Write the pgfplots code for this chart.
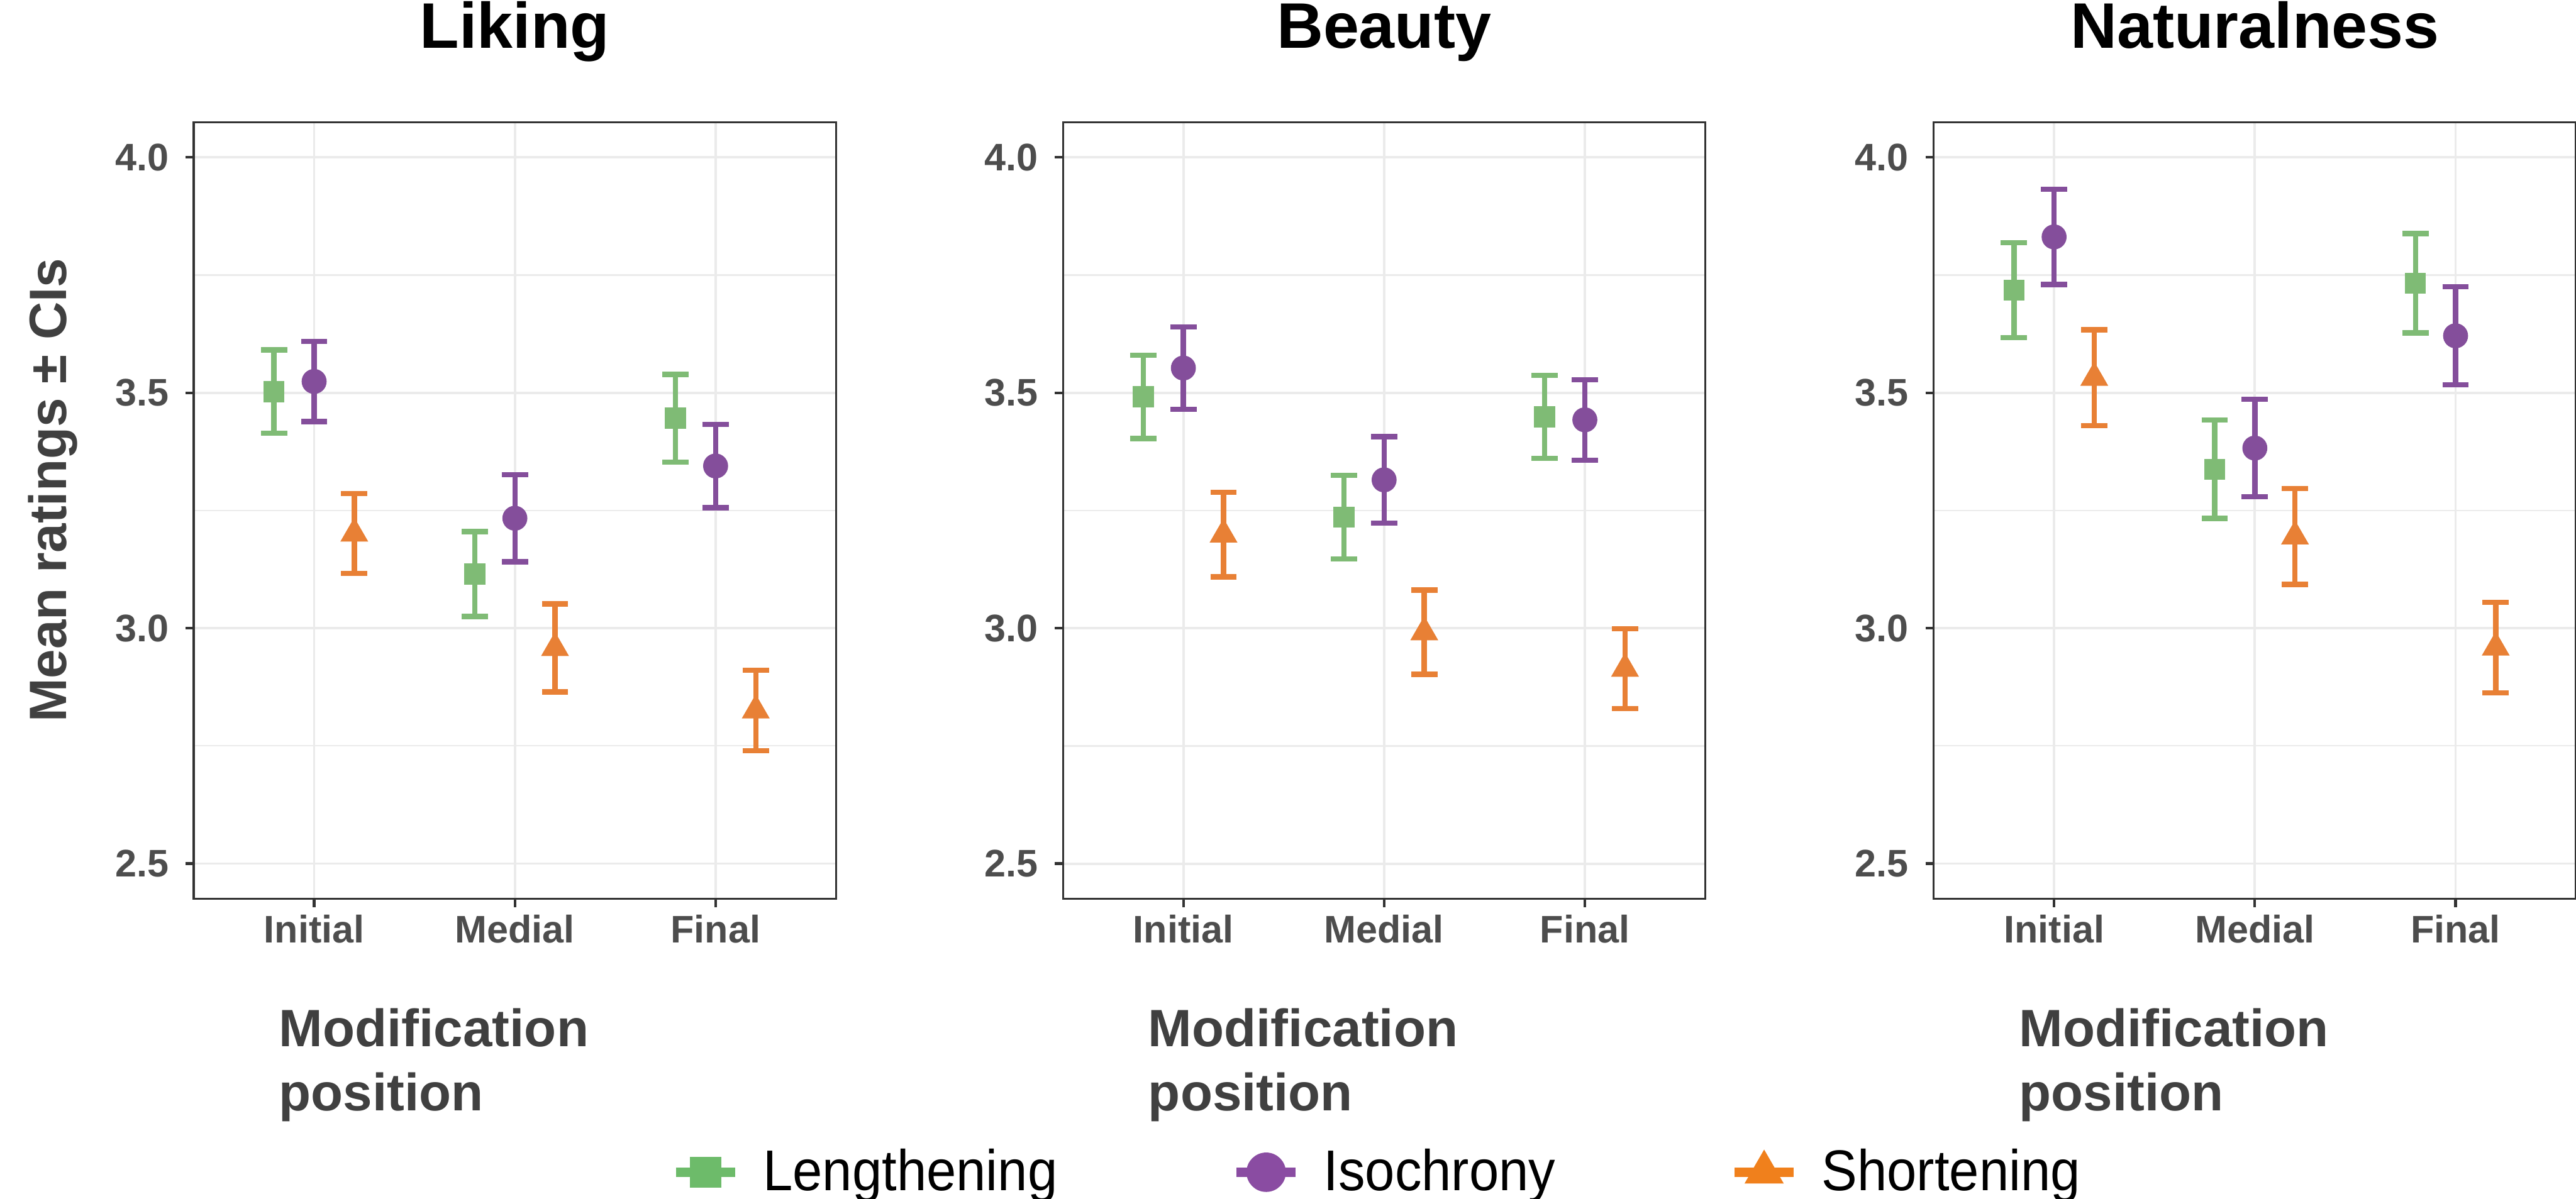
\documentclass[border=0pt]{standalone}
\usepackage{fontspec}
\setmainfont{Liberation Sans}
\newfontfamily\legfont[FakeStretch=0.93]{Liberation Sans}
\usepackage{pgfplots}
\pgfplotsset{compat=1.18}

\definecolor{cG}{HTML}{7FBB75}
\definecolor{cP}{HTML}{844E9B}
\definecolor{cO}{HTML}{E88035}
\definecolor{lG}{HTML}{6DBB6A}
\definecolor{lP}{HTML}{8A4CA2}
\definecolor{lO}{HTML}{F0801C}
\definecolor{gridc}{HTML}{EBEBEB}
\definecolor{axc}{HTML}{333333}
\definecolor{tickc}{HTML}{4D4D4D}
\definecolor{labc}{HTML}{404040}

\pgfplotsset{
 panel/.style={
  scale only axis, width=195.5pt, height=236.5pt,
  anchor=south west,
  xmin=0.4, xmax=3.6, ymin=2.425, ymax=4.075,
  xtick={1,2,3}, xticklabels={Initial,Medial,Final},
  ytick={2.5,3,3.5,4}, yticklabels={2.5,3.0,3.5,4.0},
  minor ytick={2.75,3.25,3.75},
  xmajorgrids, ymajorgrids, yminorgrids,
  major grid style={color=gridc, line width=0.75pt},
  minor grid style={color=gridc, line width=0.45pt},
  axis line style={color=axc, line width=0.6pt},
  tick align=outside, xtick pos=bottom, ytick pos=left,
  major tick length=2.5pt, minor tick length=0pt,
  tick style={color=axc, line width=0.8pt},
  ticklabel style={font=\bfseries\fontsize{11.7}{12}\selectfont, text=tickc, inner sep=0pt},
  xticklabel style={anchor=base, yshift=-10.85pt},
  yticklabel style={anchor=east, xshift=-4.9pt},
  title style={at={(axis description cs:0.5,1)}, anchor=base, yshift=16.55pt, inner sep=0pt,
     font=\bfseries\fontsize{19.6}{20}\selectfont},
  xlabel={Modification\\position},
  xlabel style={at={(axis description cs:0,0)}, anchor=north west, xshift=25.8pt, yshift=-33.15pt,
     align=left, inner sep=0pt, font=\bfseries\fontsize{16}{19.45}\selectfont, text=labc},
 },
 ebG/.style={only marks, mark=square*, mark size=3pt, color=cG, forget plot,
   error bars/.cd, y dir=both, y explicit,
   error bar style={line width=1.6pt, color=cG},
   error mark options={rotate=90, line width=1.6pt, mark size=4pt, color=cG}},
 ebP/.style={only marks, mark=*, mark size=3.6pt, color=cP, forget plot,
   error bars/.cd, y dir=both, y explicit,
   error bar style={line width=1.6pt, color=cP},
   error mark options={rotate=90, line width=1.6pt, mark size=4pt, color=cP}},
 ebO/.style={only marks, mark=triangle*, mark size=4.5pt, color=cO, forget plot,
   error bars/.cd, y dir=both, y explicit,
   error bar style={line width=1.6pt, color=cO},
   error mark options={rotate=90, line width=1.6pt, mark size=4pt, color=cO}},
}

\begin{document}
\begin{tikzpicture}
% ---------------- Liking ----------------
\begin{axis}[panel, at={(58.95pt,91.35pt)}, title={Liking},
  ylabel={Mean ratings ± CIs},
  ylabel style={at={(axis description cs:-0.1985,0.526)}, anchor=base, inner sep=0pt,
     font=\bfseries\fontsize{16}{18}\selectfont, text=labc}]
\addplot[ebG] coordinates {(0.8,3.5025) +- (0,0.0885) (1.8,3.115) +- (0,0.090) (2.8,3.446) +- (0,0.093)};
\addplot[ebP] coordinates {(1,3.524) +- (0,0.085) (2,3.2335) +- (0,0.0925) (3,3.3445) +- (0,0.0885)};
\addplot[ebO] coordinates {(1.2,3.201) +- (0,0.085) (2.2,2.958) +- (0,0.0935) (3.2,2.8255) +- (0,0.0855)};
\end{axis}
% ---------------- Beauty ----------------
\begin{axis}[panel, at={(323.5pt,91.35pt)}, title={Beauty},
  legend columns=3,
  legend cell align=left,
  legend style={at={(axis description cs:-0.611,-0.321)}, anchor=north west, draw=none, fill=none,
    inner sep=0pt, font=\legfont\fontsize{17.5}{18}\selectfont,
    nodes={inner sep=0pt},
    /tikz/every odd column/.append style={column sep=7pt},
    /tikz/every even column/.append style={column sep=53pt}},
  legend image code/.code={
    \draw[#1, line width=3pt, mark=none] (-9pt,0pt) -- (9pt,0pt);
    \draw[#1, line width=0.4pt] plot coordinates {(0pt,0pt)};
  }]
\addplot[ebG] coordinates {(0.8,3.4915) +- (0,0.0885) (1.8,3.236) +- (0,0.089) (2.8,3.449) +- (0,0.088)};
\addplot[ebP] coordinates {(1,3.5525) +- (0,0.0875) (2,3.315) +- (0,0.092) (3,3.4425) +- (0,0.0855)};
\addplot[ebO] coordinates {(1.2,3.199) +- (0,0.090) (2.2,2.9915) +- (0,0.0895) (3.2,2.914) +- (0,0.085)};
\addlegendimage{color=lG, mark=square*, mark size=4.5pt}
\addlegendentry{Lengthening}
\addlegendimage{color=lP, mark=*, mark size=5.8pt}
\addlegendentry{Isochrony}
\addlegendimage{color=lO, mark=triangle*, mark size=6.5pt}
\addlegendentry{Shortening}
\end{axis}
% ---------------- Naturalness ----------------
\begin{axis}[panel, at={(588.5pt,91.35pt)}, title={Naturalness}]
\addplot[ebG] coordinates {(0.8,3.718) +- (0,0.101) (1.8,3.3375) +- (0,0.1045) (2.8,3.7325) +- (0,0.1055)};
\addplot[ebP] coordinates {(1,3.831) +- (0,0.101) (2,3.3825) +- (0,0.1035) (3,3.621) +- (0,0.104)};
\addplot[ebO] coordinates {(1.2,3.532) +- (0,0.102) (2.2,3.195) +- (0,0.102) (3.2,2.959) +- (0,0.096)};
\end{axis}
\pgfresetboundingbox
\useasboundingbox (0,0) rectangle (784pt,365pt);
\end{tikzpicture}
\end{document}
